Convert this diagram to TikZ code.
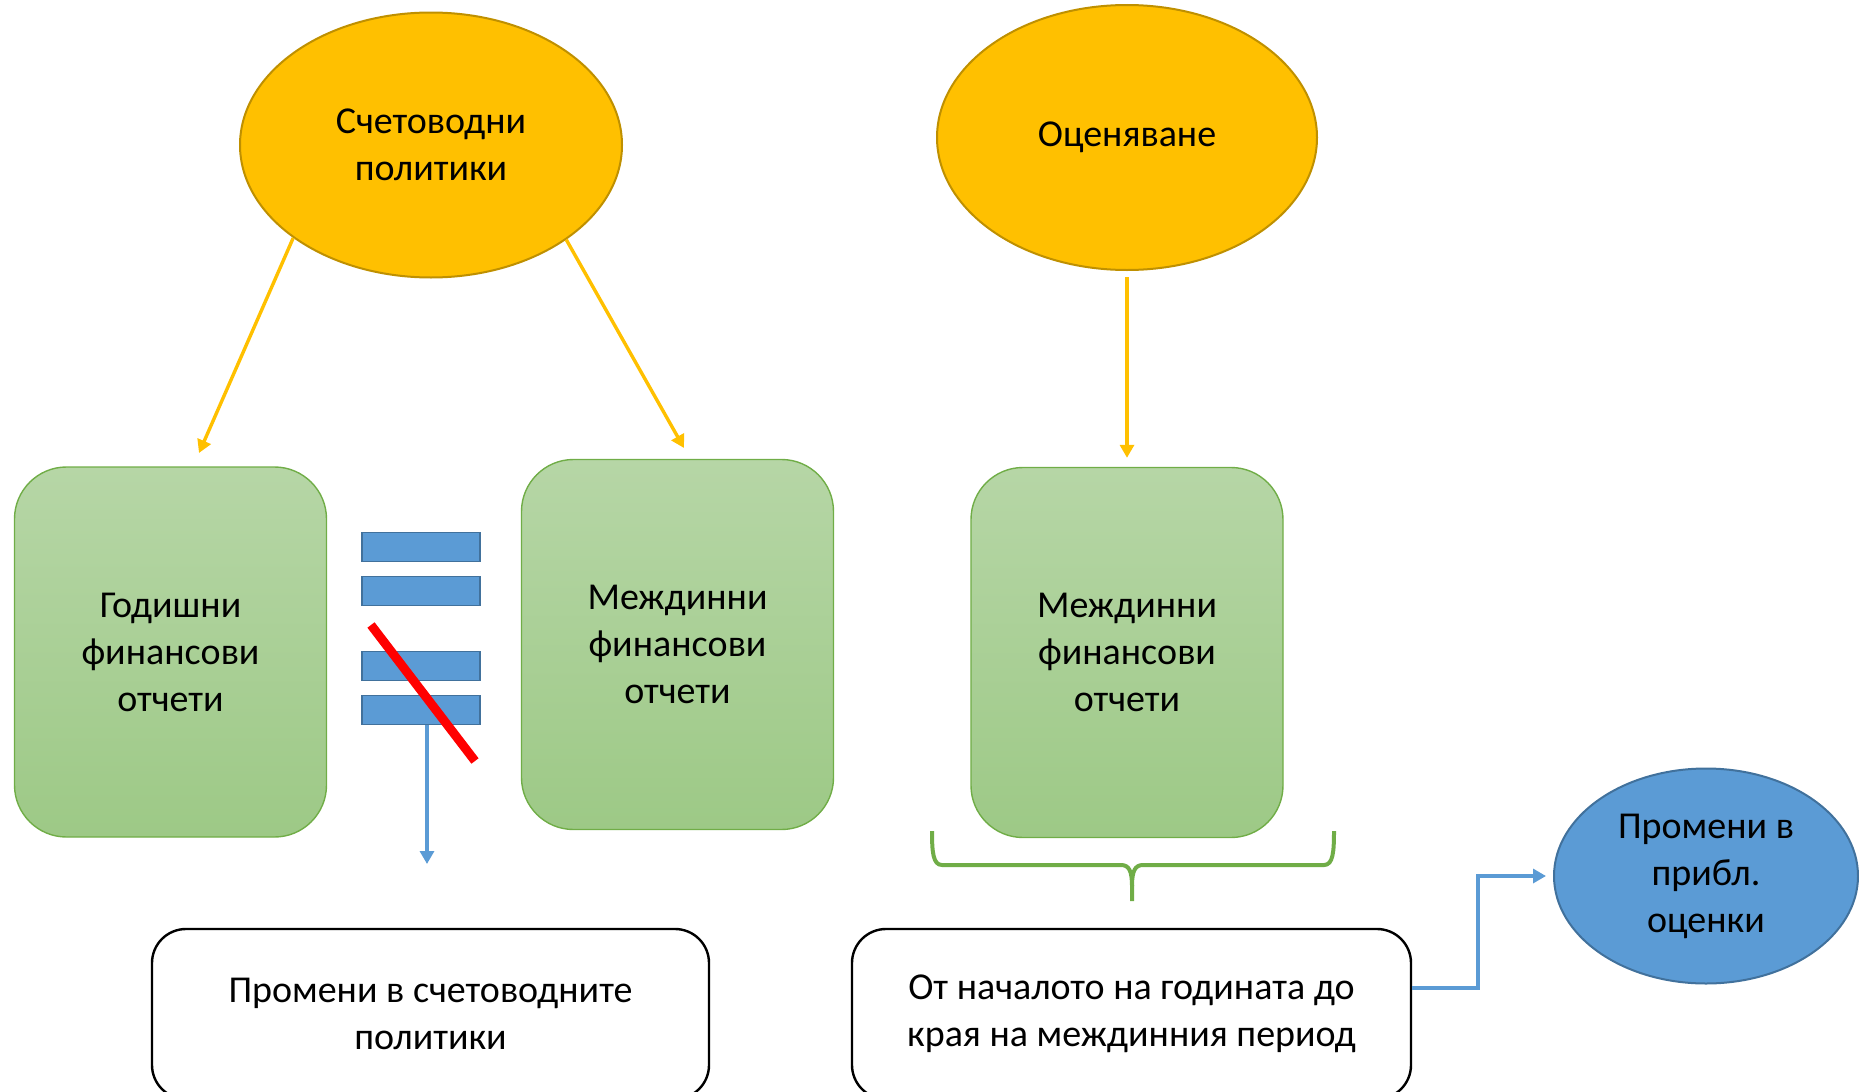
\documentclass[tikz,border=0pt]{standalone}
\usepackage{fontspec}
\setmainfont{Carlito}
\usetikzlibrary{shapes.geometric,arrows.meta}

\definecolor{gold}{HTML}{FFC000}
\definecolor{goldline}{HTML}{BF9000}
\definecolor{leaf}{HTML}{70AD47}
\definecolor{leaftop}{RGB}{182,214,166}
\definecolor{leafbot}{RGB}{157,201,134}
\definecolor{sky}{HTML}{5B9BD5}
\definecolor{skyline}{HTML}{41719C}

\begin{document}
\begin{tikzpicture}[x=0.5pt,y=-0.5pt,
    font=\fontsize{19}{23.5}\selectfont,
    oval/.style={ellipse, draw=goldline, fill=gold, line width=1pt, inner sep=0pt,
        minimum width=191pt, minimum height=132.5pt, align=center},
    report/.style={rectangle, rounded corners=26pt, draw=leaf, line width=0.7pt,
        top color=leaftop, bottom color=leafbot,
        minimum width=156pt, minimum height=185pt, align=center},
    bar/.style={rectangle, draw=skyline, fill=sky, line width=0.8pt,
        minimum width=59pt, minimum height=14.5pt, inner sep=0pt},
    note/.style={rectangle, rounded corners=17pt, draw=black, line width=1.2pt,
        fill=white, minimum height=85pt, align=center},
    goldarrow/.style={gold, line width=1.7pt, -{Triangle[length=6.5pt,width=7pt]}},
    skyarrow/.style={sky, line width=1.6pt, -{Triangle[length=6.5pt,width=7pt]}},
    brace/.style={leaf, line width=2pt}]

    % Page frame
    \clip (0,0) rectangle (1859,1092);

    % Column positions
    \def\colA{170.5}
    \def\colB{677.5}
    \def\colC{1127}
    \def\barX{421}

    % =========================================================================
    % Top ovals
    % =========================================================================
    \node[oval] (policy) at (431,145) {Счетоводни\\политики};
    \node[oval, minimum width=190pt] (estim) at (\colC,137.5) {Оценяване};

    % =========================================================================
    % Reports
    % =========================================================================
    \node[report] (annual) at (\colA,652) {Годишни\\финансови\\отчети};
    \node[report] (interimA) at (\colB,644.5) {Междинни\\финансови\\отчети};
    \node[report] (interimB) at (\colC,652.5) {Междинни\\финансови\\отчети};

    % Arrow ends above the reports
    \coordinate (annualIn) at (199,453);
    \coordinate (interimIn) at (684,448);

    \draw[goldarrow] (policy.214) -- (annualIn);
    \draw[goldarrow] (policy.325) -- (interimIn);
    \draw[goldarrow, shorten <=3pt, shorten >=4.5pt] (estim.south) -- (interimB.north);

    % =========================================================================
    % Equal sign, crossed out
    % =========================================================================
    \node[bar] (barA) at (\barX,547) {};
    \node[bar] (barB) at (\barX,591) {};
    \node[bar] (barC) at (\barX,666) {};
    \node[bar] (barD) at (\barX,710) {};

    \coordinate (dropEnd) at (427,864);
    \draw[skyarrow] ([xshift=3pt]barD.south) -- (dropEnd);

    \draw[red, line width=4.5pt] (371,625) -- (475,761);

    % =========================================================================
    % Bottom notes
    % =========================================================================
    \node[note, minimum width=278.5pt] (policyNote) at (430.5,1014)
        {Промени в счетоводните\\политики};
    \node[note, minimum width=279.5pt] (periodNote) at (1131.5,1014)
        {От началото на годината до\\края на междинния период};

    % Brace under the interim report
    \draw[brace] (932,831) .. controls (932,852) and (933,865) .. (942,865) -- (1121,865)
        .. controls (1129,865) and (1132,871) .. (1132,886) -- (1132,901);
    \draw[brace] (1334,831) .. controls (1334,852) and (1333,865) .. (1324,865) -- (1143,865)
        .. controls (1135,865) and (1132,871) .. (1132,886);

    % =========================================================================
    % Changes in estimates
    % =========================================================================
    \node[ellipse, draw=skyline, fill=sky, line width=1pt, inner sep=0pt,
        minimum width=152pt, minimum height=107.5pt, align=center]
        (change) at (1706,876) {Промени в\\прибл.\\оценки};

    \coordinate (elbow) at (1478,930);
    \draw[skyarrow, shorten >=3.5pt] ([yshift=13pt]periodNote.east) -| (elbow) |- (change.west);

\end{tikzpicture}
\end{document}
